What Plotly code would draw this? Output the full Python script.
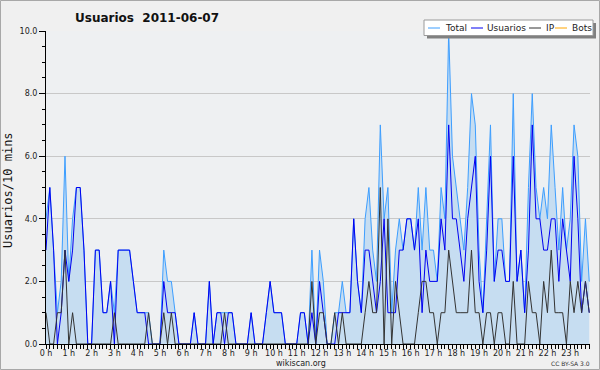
import plotly.graph_objects as go

# ---- data (10-minute intervals, 2011-06-07) ----
usuarios = [3,5,3,0,1,3,2,3,5,5,3,0,0,3,3,1,1,2,0,3,3,3,3,2,1,1,1,0,0,0,
            0,2,1,1,1,0,0,0,0,1,0,0,0,2,0,1,1,0,1,1,0,0,0,0,1,0,0,0,1,2,
            1,1,1,0,0,0,0,1,1,0,1,0,2,1,0,0,0,1,1,1,1,4,2,1,3,3,2,1,2,4,
            1,1,1,3,3,4,4,3,4,1,3,2,2,2,4,3,7,4,4,3,2,4,5,6,2,1,3,6,2,3,
            3,2,2,6,2,3,1,3,7,4,4,3,3,4,4,2,4,3,2,6,4,1,2,1]
ip       = [1,0,0,1,1,3,0,1,0,0,0,0,0,0,0,0,0,0,1,0,0,0,0,0,0,0,0,1,0,0,
            0,1,0,1,0,0,0,0,0,0,0,0,0,0,0,0,0,1,0,0,0,0,0,0,0,0,0,0,0,0,
            0,0,0,0,0,0,0,0,0,0,2,0,1,1,0,0,1,0,1,0,0,0,0,0,1,2,1,1,5,0,
            4,0,2,1,0,0,0,0,1,2,2,1,1,0,1,1,3,2,1,1,1,1,3,1,1,0,1,1,0,1,
            1,0,0,2,0,0,0,2,1,1,0,2,1,3,1,1,1,0,2,1,2,1,2,1]
total    = [4,5,3,1,2,6,2,4,5,5,3,0,0,3,3,1,1,2,1,3,3,3,3,2,1,1,1,1,0,0,
            0,3,2,2,1,0,0,0,0,1,0,0,0,2,0,1,1,1,1,1,0,0,0,0,1,0,0,0,1,2,
            1,1,1,0,0,0,0,1,1,0,3,0,3,2,0,0,1,1,2,1,1,4,2,1,4,5,3,2,7,4,
            5,1,3,4,3,4,4,3,5,3,5,3,3,2,5,4,10,6,5,4,3,5,8,7,3,1,4,7,2,4,
            4,2,2,8,2,3,1,5,8,5,4,5,4,7,5,3,5,3,4,7,6,2,4,2]
bots     = [0] * 144
hour_labels = [f"{h} h" for h in range(24)]

steps = list(range(len(total)))

L, R, T, B = 46, 10, 31, 26
W, H = 600, 370
PW, PH = W - L - R, H - T - B

def px(x):
    return (x - L) / PW

def py(y):
    return (H - B - y) / PH

FONT = "DejaVu Sans"
C_TOTAL = "#3d9eff"
C_USR = "#0000f0"
C_IP = "#333333"
C_BOTS = "#ffa500"

fig = go.Figure()
fig.add_trace(go.Scatter(x=steps, y=bots, mode="lines", name="Bots",
                         line=dict(color=C_BOTS, width=1)))
fig.add_trace(go.Scatter(x=steps, y=total, mode="lines", name="Total",
                         line=dict(color=C_TOTAL, width=1),
                         fill="tozeroy", fillcolor="#c6ddf1"))
fig.add_trace(go.Scatter(x=steps, y=usuarios, mode="lines", name="Usuarios",
                         line=dict(color=C_USR, width=1)))
fig.add_trace(go.Scatter(x=steps, y=ip, mode="lines", name="IP",
                         line=dict(color=C_IP, width=1)))

fig.update_layout(
    width=W, height=H,
    margin=dict(l=L, r=R, t=T, b=B, pad=0),
    paper_bgcolor="#f0f0f0",
    plot_bgcolor="#eef0f2",
    showlegend=False,
    title=dict(text="<b>Usuarios\u00a0 2011-06-07</b>",
               font=dict(family=FONT, size=12, color="#111"),
               x=75 / W, xanchor="left", xref="container",
               y=1 - 18 / H, yanchor="middle", yref="container"),
)

fig.update_xaxes(
    range=[0, 143.2], showgrid=False, zeroline=False,
    showline=True, linecolor="black", linewidth=1,
    tickmode="array", tickvals=[h * 6 for h in range(24)], ticktext=hour_labels,
    ticks="outside", ticklen=4, tickcolor="black", tickwidth=1,
    tickfont=dict(family=FONT, size=8, color="#222"),
    ticklabelstandoff=-3,
    minor=dict(tickmode="linear", tick0=0, dtick=1, ticks="outside",
               ticklen=4, tickcolor="black", tickwidth=1, showgrid=False),
    fixedrange=True,
)
fig.update_yaxes(
    range=[0, 10], zeroline=False,
    showgrid=True, gridcolor="#c8c8c8", gridwidth=1,
    showline=True, linecolor="black", linewidth=1,
    tickmode="linear", tick0=0, dtick=2, tickformat=".1f",
    ticks="outside", ticklen=6, tickcolor="black", tickwidth=1,
    tickfont=dict(family=FONT, size=8, color="#222"),
    minor=dict(tickmode="linear", tick0=0, dtick=0.5, ticks="outside",
               ticklen=3, tickcolor="black", tickwidth=1, showgrid=False),
    fixedrange=True,
)

shapes = []
annotations = []

# outer frame
shapes.append(dict(type="rect", xref="paper", yref="paper",
                   x0=px(0.5), x1=px(599.5), y0=py(0.5), y1=py(369.5),
                   line=dict(color="#a8a8a8", width=1), layer="above"))

# legend box with shadow
shapes.append(dict(type="rect", xref="paper", yref="paper",
                   x0=px(427), x1=px(596), y0=py(23), y1=py(38.5),
                   fillcolor="#808080", line=dict(width=0), layer="above"))
shapes.append(dict(type="rect", xref="paper", yref="paper",
                   x0=px(424), x1=px(593), y0=py(20), y1=py(35.5),
                   fillcolor="white", line=dict(color="#9a9a9a", width=1),
                   layer="above"))
legend_items = [("Total", C_TOTAL, 428, 444),
                ("Usuarios", C_USR, 471, 486),
                ("IP", C_IP, 529, 545),
                ("Bots", C_BOTS, 555, 571)]
for name, col, xd, xt in legend_items:
    shapes.append(dict(type="line", xref="paper", yref="paper",
                       x0=px(xd), x1=px(xd + 12), y0=py(28), y1=py(28),
                       line=dict(color=col, width=1), layer="above"))
    annotations.append(dict(text=name, xref="paper", yref="paper",
                            x=px(xt - 1), y=py(28), xanchor="left",
                            yanchor="middle", showarrow=False,
                            font=dict(family=FONT, size=9, color="#222")))

# y-axis title
annotations.append(dict(text="Usuarios/10 mins", xref="paper", yref="paper",
                        x=px(8), y=py(190), xanchor="center", yanchor="middle",
                        textangle=-90, showarrow=False,
                        font=dict(family="DejaVu Sans Mono", size=12, color="#111")))
# footer
annotations.append(dict(text="wikiscan.org", xref="paper", yref="paper",
                        x=px(301), y=py(363), xanchor="center", yanchor="middle",
                        showarrow=False,
                        font=dict(family=FONT, size=8, color="#222")))
annotations.append(dict(text="CC BY-SA 3.0", xref="paper", yref="paper",
                        x=px(592), y=py(363.5), xanchor="right", yanchor="middle",
                        showarrow=False,
                        font=dict(family=FONT, size=6, color="#333")))

fig.update_layout(shapes=shapes, annotations=annotations)

fig.write_html("out.html",
               config={"displayModeBar": False},
               post_script="document.body.style.margin='0';document.body.style.padding='0';")
